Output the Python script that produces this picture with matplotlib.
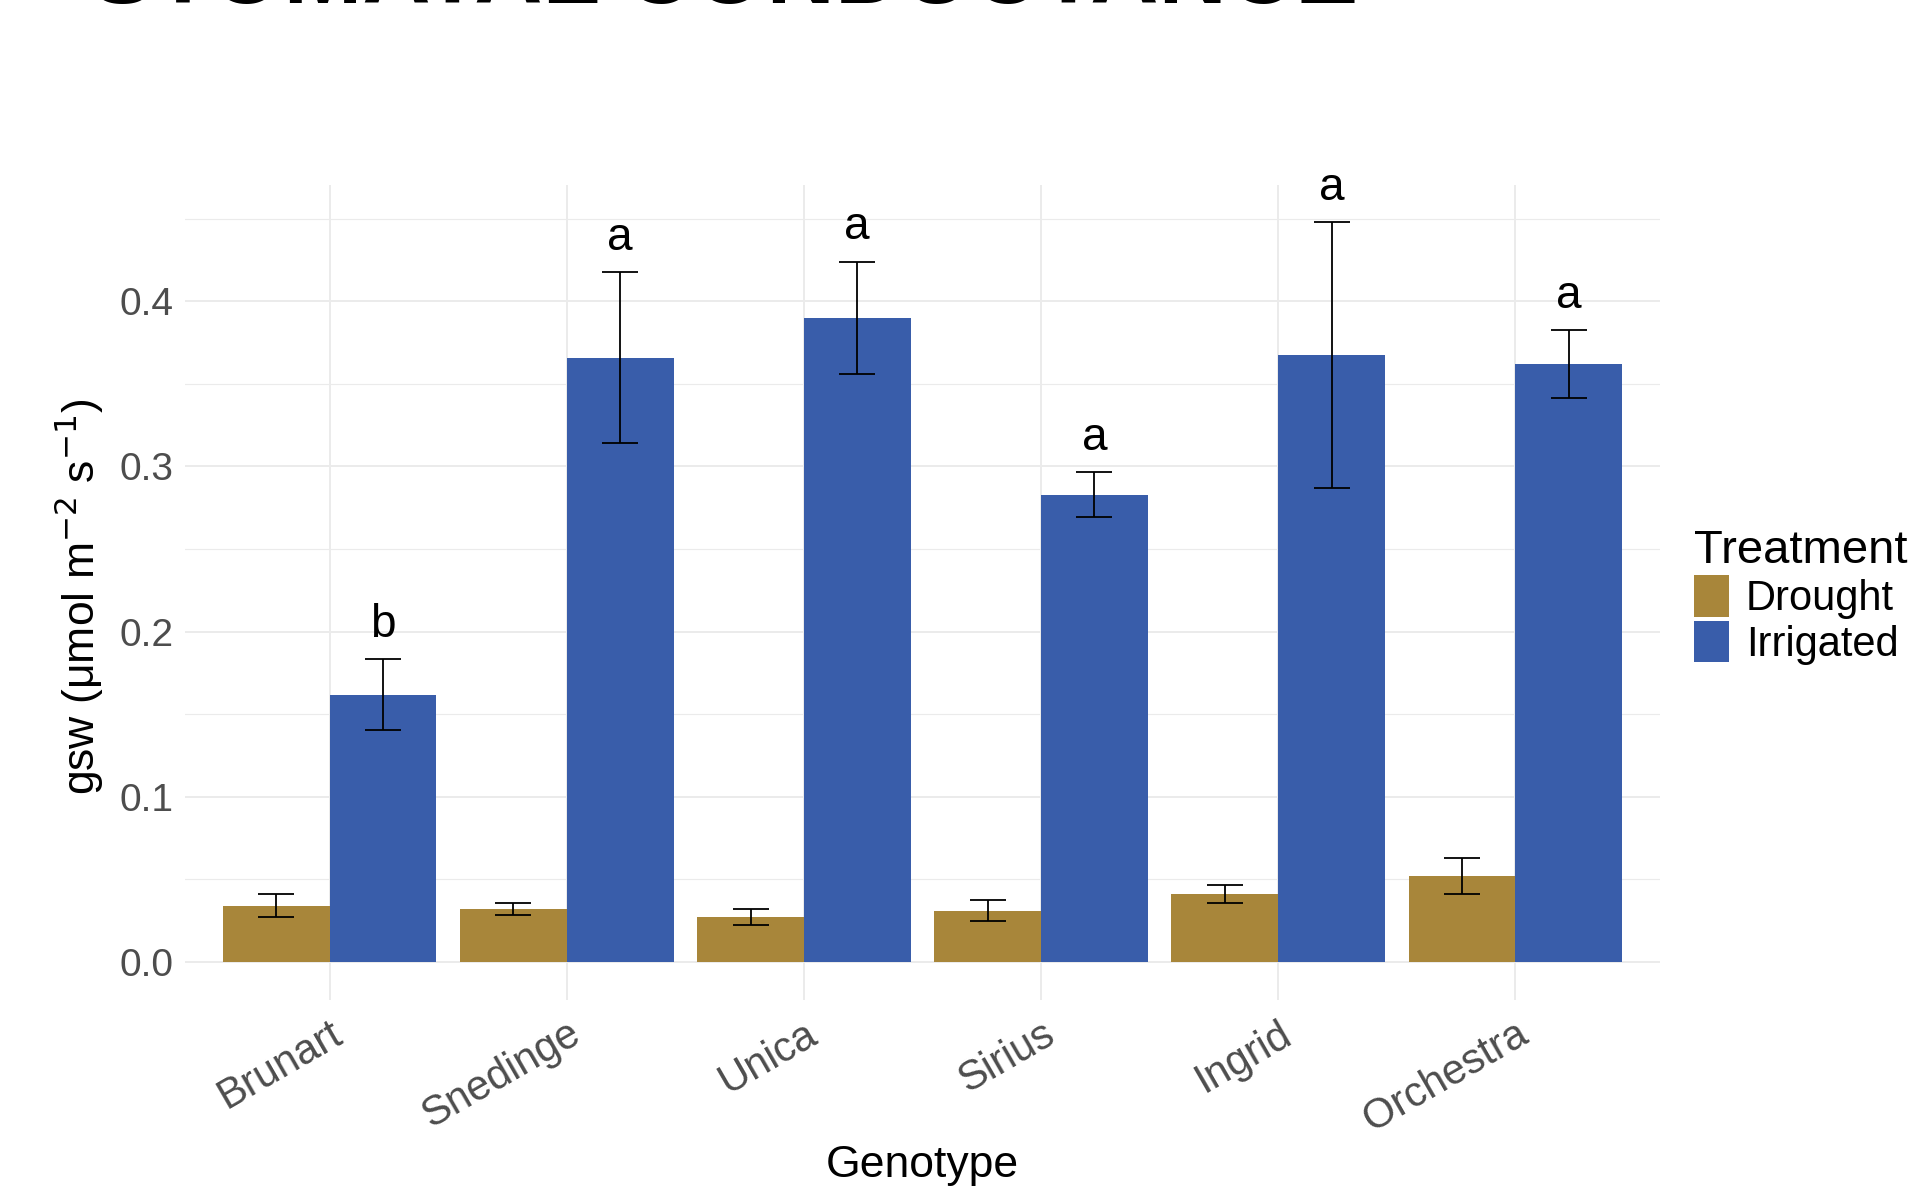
import matplotlib
matplotlib.use("Agg")
import matplotlib.pyplot as plt
import numpy as np
from matplotlib.patches import Patch

plt.rcParams['font.family'] = ['Liberation Sans', 'DejaVu Sans']

genotypes = ["Brunart", "Snedinge", "Unica", "Sirius", "Ingrid", "Orchestra"]
drought_mean = [0.034, 0.032, 0.027, 0.031, 0.041, 0.052]
drought_se = [0.007, 0.0035, 0.005, 0.0065, 0.0055, 0.011]
irrigated_mean = [0.1616, 0.366, 0.390, 0.283, 0.3675, 0.362]
irrigated_se = [0.0215, 0.0515, 0.034, 0.0135, 0.0805, 0.0205]
letters = ["b", "a", "a", "a", "a", "a"]

c_drought = "#A8863A"
c_irrig = "#395DAA"

W, H = 1909, 1194
fig = plt.figure(figsize=(W / 100, H / 100), dpi=100)
ax = fig.add_axes([185 / W, 1 - 1000 / H, (1660 - 185) / W, (1000 - 185) / H])

x = np.arange(len(genotypes))
bw = 0.45
ax.bar(x - bw / 2, drought_mean, width=bw, color=c_drought, zorder=2)
ax.bar(x + bw / 2, irrigated_mean, width=bw, color=c_irrig, zorder=2)
ax.errorbar(x - bw / 2, drought_mean, yerr=drought_se, fmt='none', ecolor='black',
            elinewidth=1.3, capsize=13, capthick=1.3, zorder=3)
ax.errorbar(x + bw / 2, irrigated_mean, yerr=irrigated_se, fmt='none', ecolor='black',
            elinewidth=1.3, capsize=13, capthick=1.3, zorder=3)
for xi, m, s, l in zip(x, irrigated_mean, irrigated_se, letters):
    ax.text(xi + bw / 2, m + s + 0.0075, l, ha='center', va='bottom', fontsize=33, color='black')

ax.set_xlim(-0.61, 5.61)
ax.set_ylim(-0.0232, 0.4705)
ax.set_yticks([0, 0.1, 0.2, 0.3, 0.4])
ax.set_yticklabels(["0.0", "0.1", "0.2", "0.3", "0.4"])
ax.set_yticks([0.05, 0.15, 0.25, 0.35, 0.45], minor=True)
ax.set_xticks(x)
ax.set_xticklabels(genotypes, rotation=30, ha='right', va='top', rotation_mode='anchor')
ax.tick_params(axis='both', which='both', length=0, labelsize=28, labelcolor='#4D4D4D')
ax.tick_params(axis='x', labelsize=30, pad=10)
ax.tick_params(axis='y', pad=8)
ax.grid(True, which='major', color='#EBEBEB', linewidth=1.4, zorder=0)
ax.grid(True, which='minor', axis='y', color='#EBEBEB', linewidth=0.8, zorder=0)
ax.set_axisbelow(True)
for sp in ax.spines.values():
    sp.set_visible(False)

fig.text(922 / W, 1 - 1166 / H, "Genotype", ha='center', va='center', fontsize=32)
fig.text(79 / W, 1 - 597 / H, r"gsw ($\mathregular{\mu}$mol m$^{-2}$ s$^{-1}$)", rotation=90,
         ha='center', va='center', fontsize=32)

handles = [Patch(facecolor=c_drought, label="Drought"), Patch(facecolor=c_irrig, label="Irrigated")]
leg = fig.legend(handles=handles, title="Treatment", loc='center left',
                 bbox_to_anchor=(1694 / W, 1 - 597 / H), frameon=False,
                 fontsize=30, title_fontsize=34, handlelength=0.85, handleheight=1.15,
                 handletextpad=0.4, labelspacing=0.05, borderaxespad=0, borderpad=0)
leg._legend_box.align = "left"

fig.text(91 / W, 1 - 3 / H, "STOMATAL CONDUCTANCE", fontsize=68, fontweight='bold',
         ha='left', va='baseline', color='black')

fig.savefig("out.png", dpi=100)
